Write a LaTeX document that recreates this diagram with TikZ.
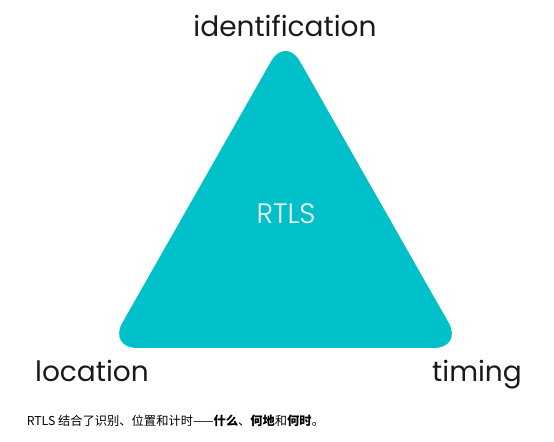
\documentclass[tikz,border=0pt]{standalone}
\usepackage{fontspec}
\setmainfont{Poppins}
\newfontfamily\lightfont{Poppins Light}
\newfontfamily\cjk{Noto Sans CJK SC}
\usepackage{tikz}
\usetikzlibrary{positioning,calc}
\definecolor{rtlsteal}{HTML}{00C1C9}
\definecolor{labelgray}{HTML}{1A1A1A}
\tikzset{
  corner label/.style={font=\fontsize{21}{24}\selectfont,text=labelgray,anchor=base,inner sep=0pt},
}

\begin{document}
\begin{tikzpicture}[x=0.75pt,y=-0.75pt]
\useasboundingbox (0,0) rectangle (554,442);
\coordinate (top) at (285.5,36);
\coordinate (left) at (108,348);
\coordinate (right) at (463,348);
\fill[rtlsteal,rounded corners=22pt] ($(left)!0.5!(right)$) -- (right) -- (top) -- (left) -- cycle;
\node[text=white,font=\lightfont\fontsize{21}{24}\selectfont] (rtls) at (286,214) {RTLS};
\node[corner label] (ident) at (285,36.7) {identification};
\node[corner label] (loc) at (92,381.7) {location};
\node[corner label] (tim) at (477,381.7) {timing};
\node[font=\cjk\fontsize{9.2}{12}\selectfont,anchor=west,inner sep=0pt] (caption) at (26.5,421)
  {RTLS 结合了识别、位置和计时——\textbf{什么}、\textbf{何地}和\textbf{何时}。};
\end{tikzpicture}
\end{document}
